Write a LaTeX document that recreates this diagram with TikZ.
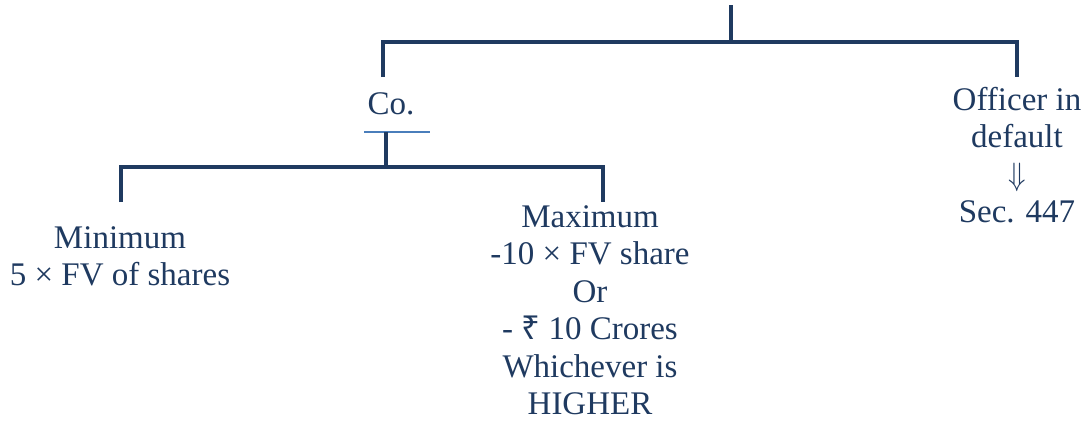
\documentclass[tikz,border=0pt]{standalone}
\usepackage{fontspec}
\setmainfont{Liberation Serif}
\newfontfamily\rupeefont{Noto Sans}
\usetikzlibrary{positioning}
\definecolor{navy}{HTML}{1F3A60}
\definecolor{lightblue}{HTML}{4A7EBB}
\tikzset{
	branch/.style={navy, line width=4pt, line join=miter},
	underline/.style={lightblue, line width=1.5pt},
	lbl/.style={text=navy, align=center, inner sep=0pt, font=\fontsize{33}{37.5}\selectfont}
}
\begin{document}
\begin{tikzpicture}[x=1pt,y=-1pt]
	\useasboundingbox (0,0) rectangle (1083,421);
	% top of the tree
	\coordinate (root) at (731,5);
	\coordinate (topbar) at (731,42);
	\coordinate (coend) at (383,77);
	\coordinate (offend) at (1017,77);
	\draw[branch] (root) -- (topbar);
	\draw[branch] (coend) -- (coend |- topbar) -- (offend |- topbar) -- (offend);
	
	\node[lbl] (co) at (391,104) {Co.};
	\node[lbl, anchor=north] (officer) at (1017,87) {Officer in\\default\\\scalebox{1.15}[1.3]{$\Downarrow$}\\Sec. 447};
	
	% company branch
	\coordinate (cobase) at (386,132);
	\coordinate (lowbar) at (386,167);
	\coordinate (minend) at (121,202);
	\coordinate (maxend) at (603,202);
	\draw[underline] (364,132) -- (430,132);
	\draw[branch] (cobase) -- (lowbar);
	\draw[branch] (minend) -- (minend |- lowbar) -- (maxend |- lowbar) -- (maxend);
	
	\node[lbl, anchor=north] (minimum) at (120,226) {Minimum\\5 × FV of shares};
	\node[lbl, anchor=north] (maximum) at (590,205) {Maximum\\-10 × FV share\\Or\\- {\rupeefont ₹} 10 Crores\\Whichever is\\HIGHER};
\end{tikzpicture}
\end{document}
